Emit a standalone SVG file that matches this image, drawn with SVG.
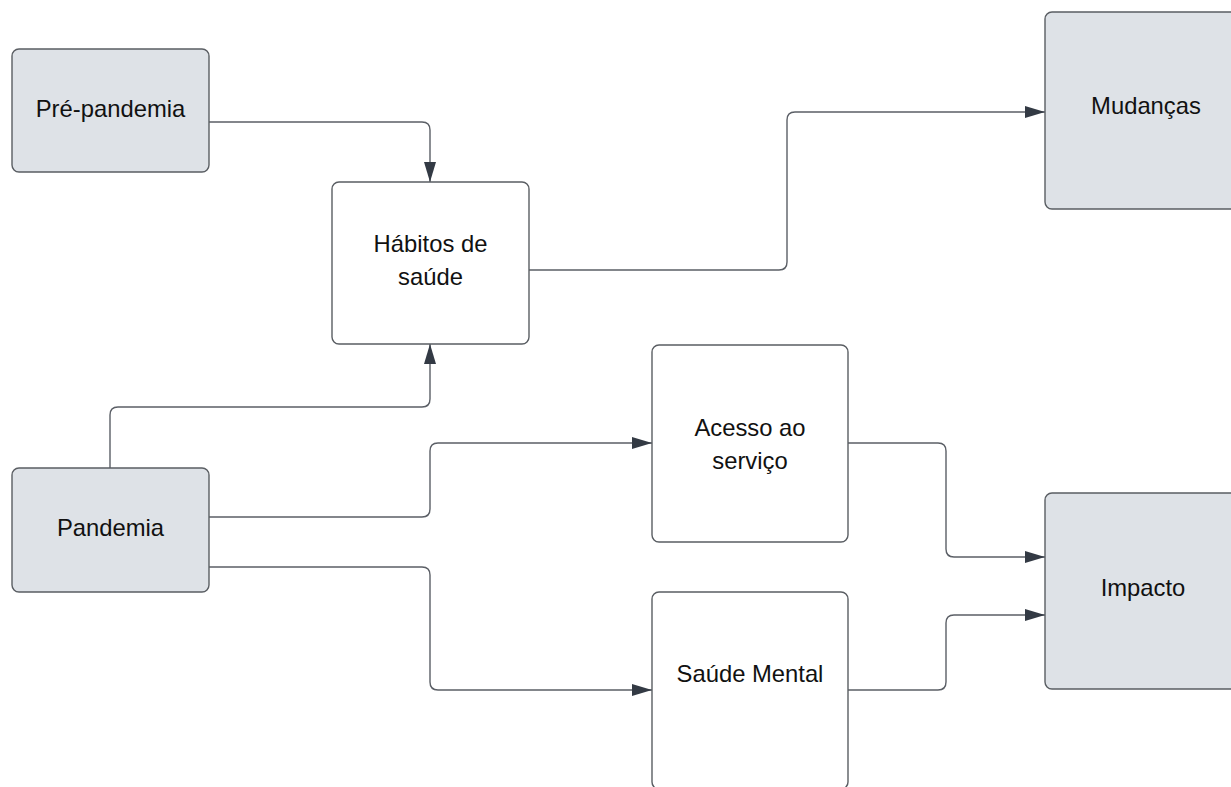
<svg xmlns="http://www.w3.org/2000/svg" width="1231" height="787" viewBox="0 0 1231 787">
<style>
.g{fill:#dee2e7;stroke:#5a5e63;stroke-width:1.4}
.w{fill:#ffffff;stroke:#5a5e63;stroke-width:1.4}
.t{font-family:"Liberation Sans",Arial,sans-serif;font-size:23.8px;fill:#111;text-anchor:middle}
.c{fill:none;stroke:#5b5f66;stroke-width:1.4}
</style>
<defs>
<marker id="a" viewBox="0 0 20 12" refX="20" refY="6" markerWidth="20" markerHeight="12" markerUnits="userSpaceOnUse" orient="auto">
<path d="M0,0 L20,6 L0,12 Z" fill="#333a44"/>
</marker>
</defs>
<rect width="1231" height="787" fill="#ffffff"/>
<g id="connectors">
<path class="c" d="M209,122 H422 Q430,122 430,130 V182" marker-end="url(#a)"/>
<path class="c" d="M529,270 H779 Q787,270 787,262 V120 Q787,112 795,112 H1045" marker-end="url(#a)"/>
<path class="c" d="M110,468 V415 Q110,407 118,407 H422 Q430,407 430,399 V344" marker-end="url(#a)"/>
<path class="c" d="M209,517 H422 Q430,517 430,509 V451 Q430,443 438,443 H652" marker-end="url(#a)"/>
<path class="c" d="M209,567 H422 Q430,567 430,575 V682 Q430,690 438,690 H652" marker-end="url(#a)"/>
<path class="c" d="M848,443 H938 Q946,443 946,451 V549 Q946,557 954,557 H1045" marker-end="url(#a)"/>
<path class="c" d="M848,690 H938 Q946,690 946,682 V623 Q946,615 954,615 H1045" marker-end="url(#a)"/>
</g>
<g id="pre-pandemia">
<rect class="g" x="12" y="49" width="197" height="123" rx="7"/>
<text class="t" x="110.5" y="117">Pré-pandemia</text>
</g>
<g id="habitos">
<rect class="w" x="332" y="182" width="197" height="162" rx="7"/>
<text class="t" x="430.5" y="252">Hábitos de</text>
<text class="t" x="430.5" y="285">saúde</text>
</g>
<g id="mudancas">
<rect class="g" x="1045" y="12" width="197" height="197" rx="7"/>
<text class="t" x="1146" y="114">Mudanças</text>
</g>
<g id="pandemia">
<rect class="g" x="12" y="468" width="197" height="124" rx="7"/>
<text class="t" x="110.5" y="536">Pandemia</text>
</g>
<g id="acesso">
<rect class="w" x="652" y="345" width="196" height="197" rx="7"/>
<text class="t" x="750" y="436">Acesso ao</text>
<text class="t" x="750" y="469">serviço</text>
</g>
<g id="saude-mental">
<rect class="w" x="652" y="592" width="196" height="197" rx="7"/>
<text class="t" x="750" y="682">Saúde Mental</text>
</g>
<g id="impacto">
<rect class="g" x="1045" y="493" width="197" height="196" rx="7"/>
<text class="t" x="1143" y="596">Impacto</text>
</g>
</svg>
